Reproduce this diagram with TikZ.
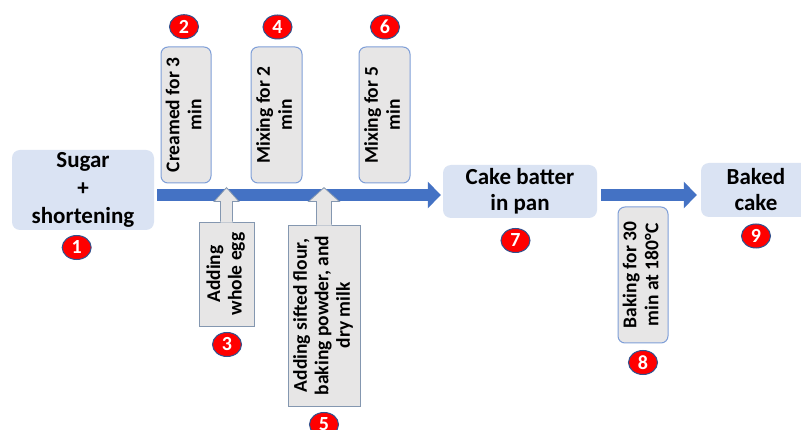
\documentclass[tikz,border=0pt]{standalone}
\usepackage{fontspec}
\usepackage{graphicx}
\setmainfont{Carlito}
\usetikzlibrary{arrows.meta,calc,shapes.geometric}
\definecolor{boxblue}{HTML}{DAE3F3}
\definecolor{boxgray}{HTML}{E7E6E6}
\definecolor{edgeblue}{HTML}{7F9FD8}
\definecolor{arrowblue}{HTML}{4472C4}
\definecolor{upedge}{HTML}{8497B0}
\definecolor{circedge}{HTML}{2F528F}
\tikzset{
  bluebox/.style={fill=boxblue, rounded corners=8pt, inner sep=0pt, align=center,
    font=\bfseries\fontsize{23}{28}\selectfont},
  graybox/.style={fill=boxgray, draw=edgeblue, line width=1pt, rounded corners=7pt, inner sep=0pt,
    minimum width=50pt, minimum height=136pt, font=\bfseries\fontsize{19.5}{22}\selectfont},
  upbody/.style={fill=boxgray, draw=upedge, line width=0.8pt, inner sep=0pt,
    font=\bfseries\fontsize{19.5}{21.5}\selectfont},
  badge/.style={ellipse, fill=red, draw=circedge, line width=1pt, minimum width=29pt,
    minimum height=24pt, inner sep=0pt, text=white, font=\bfseries\fontsize{20}{20}\selectfont},
  bigarrow/.style={draw=arrowblue, line width=12pt, -{Triangle[length=13pt,width=26pt]}},
}
\newcommand{\vtext}[1]{\rotatebox{90}{\begin{tabular}{@{}c@{}}#1\end{tabular}}}
\begin{document}
\begin{tikzpicture}[x=1pt,y=-1pt]
\clip (0,0) rectangle (801,430);
\fill[white] (0,0) rectangle (801,430);
% main boxes
\node[bluebox, minimum width=142pt, minimum height=80pt] (b1) at (83,190) {Sugar\\+\\shortening};
\node[bluebox, minimum width=154pt, minimum height=53pt, font=\bfseries\fontsize{23}{26}\selectfont] (b7) at (520,191.5) {Cake batter\\in pan};
\node[bluebox, minimum width=110pt, minimum height=54pt, font=\bfseries\fontsize{23}{26}\selectfont] (b9) at (756,190) {Baked\\cake};
% gray step boxes
\node[graybox] (n2) at (186,115) {\vtext{Creamed for 3\\min}};
\node[graybox, minimum width=51pt] (n4) at (276.5,115) {\vtext{Mixing for 2\\min}};
\node[graybox, minimum width=51pt] (n6) at (384.5,115) {\vtext{Mixing for 5\\min}};
\node[graybox] (n8) at (643,275) {\vtext{Baking for 30\\min at 180°C}};
% main arrows
\coordinate (axis) at (0,195);
\draw[bigarrow] ([xshift=3pt]b1.east |- axis) -- ([xshift=-2pt]b7.west |- axis);
\draw[bigarrow] ([xshift=4pt]b7.east |- axis) -- ([xshift=-4pt]b9.west |- axis);
% upward block arrows
\node[upbody, minimum width=55pt, minimum height=104pt] (n3) at (226.5,274) {\vtext{Adding\\whole egg}};
\node[upbody, minimum width=72pt, minimum height=181pt] (n5) at (324,315.5) {\vtext{Adding sifted flour,\\baking powder, and\\dry milk}};
\fill[boxgray] ([xshift=-6pt,yshift=-1pt]n3.north) -- ++(0,-21) -- ++(-6.5,0) -- ++(12.5,-14) -- ++(12.5,14) -- ++(-6.5,0) -- ++(0,21) -- cycle;
\draw[upedge, line width=0.8pt, line join=miter] ([xshift=-6pt]n3.north) -- ++(0,-20) -- ++(-6.5,0) -- ++(12.5,-14) -- ++(12.5,14) -- ++(-6.5,0) -- ++(0,20);
\fill[boxgray] ([xshift=-7.5pt,yshift=-1pt]n5.north) -- ++(0,-24) -- ++(-8,0) -- ++(15.5,-14) -- ++(15.5,14) -- ++(-8,0) -- ++(0,24) -- cycle;
\draw[upedge, line width=0.8pt, line join=miter] ([xshift=-7.5pt]n5.north) -- ++(0,-23) -- ++(-8,0) -- ++(15.5,-14) -- ++(15.5,14) -- ++(-8,0) -- ++(0,23);
% badges
\node[badge] (c1) at (76.7,247.5) {1};
\node[badge] (c2) at (184,26.7) {2};
\node[badge] (c3) at (227,344.5) {3};
\node[badge] (c4) at (277.5,27) {4};
\node[badge] (c5) at (324,424.5) {5};
\node[badge] (c6) at (385,27) {6};
\node[badge] (c7) at (515.5,240.5) {7};
\node[badge] (c8) at (643,362.5) {8};
\node[badge] (c9) at (756,236) {9};
\end{tikzpicture}
\end{document}
